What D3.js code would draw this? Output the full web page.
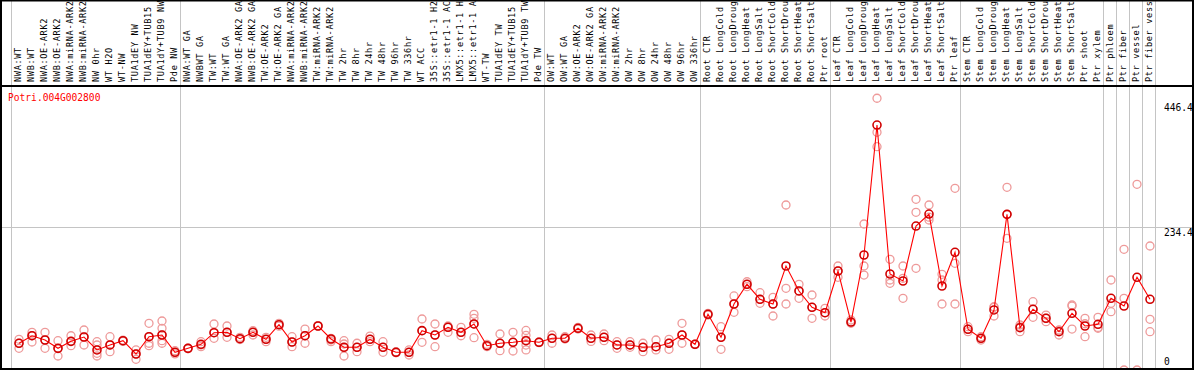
<!DOCTYPE html>
<html>
<head>
<meta charset="utf-8">
<script src="https://cdn.jsdelivr.net/npm/d3@7"></script>
<style>
  body { margin: 0; background: #fff; }
  text { font-family: "DejaVu Sans Mono", monospace; }
</style>
</head>
<body>
<div id="chart"></div>
<script>
var geneName = "Potri.004G002800";

var labels = [
  "NWA:WT", "NWB:WT", "NWA:OE-ARK2", "NWB:OE-ARK2", "NWA:miRNA-ARK2", "NWB:miRNA-ARK2", "NW 0hr",
  "WT H2O", "WT-NW", "TUA1dEY NW", "TUA1dEY+TUB15", "TUA1dY+TUB9 NW", "Pde NW",
  "NWA:WT GA", "NWBWT GA", "TW:WT", "TW:WT GA", "NWA:OE-ARK2 GA", "NWB:OE-ARK2 GA", "TW:OE-ARK2",
  "TW:OE-ARK2 GA", "NWA:miRNA-ARK2", "NWB:miRNA-ARK2", "TW:miRNA-ARK2", "TW:miRNA-ARK2", "TW 2hr",
  "TW 8hr", "TW 24hr", "TW 48hr", "TW 96hr", "TW 336hr", "WT ACC", "35S::etr1-1 H2", "35S::etr1-1 AC",
  "LMX5::etr1-1 H", "LMX5::etr1-1 A", "WT-TW", "TUA1dEY TW", "TUA1dEY+TUB15", "TUA1dY+TUB9 TW", "Pde TW",
  "OW:WT", "OW:WT GA", "OW:OE-ARK2", "OW:OE-ARK2 GA", "OW:miRNA-ARK2", "OW:miRNA-ARK2", "OW 2hr",
  "OW 8hr", "OW 24hr", "OW 48hr", "OW 96hr", "OW 336hr",
  "Root CTR", "Root LongCold", "Root LongDroug", "Root LongHeat", "Root LongSalt", "Root ShortCold",
  "Root ShortDrou", "Root ShortHeat", "Root ShortSalt", "Ptr root",
  "Leaf CTR", "Leaf LongCold", "Leaf LongDroug", "Leaf LongHeat", "Leaf LongSalt", "Leaf ShortCold",
  "Leaf ShortDrou", "Leaf ShortHeat", "Leaf ShortSalt", "Ptr leaf",
  "Stem CTR", "Stem LongCold", "Stem LongDroug", "Stem LongHeat", "Stem LongSalt", "Stem ShortCold",
  "Stem ShortDrou", "Stem ShortHeat", "Stem ShortSalt", "Ptr shoot", "Ptr xylem",
  "Ptr phloem", "Ptr fiber", "Ptr vessel", "Ptr fiber vess"
];

// number of columns in each block between the grey separators
var groupSizes = [13, 28, 12, 10, 10, 11, 1, 1, 1, 1];

var means = [
  43.9, 56.3, 49.3, 35.6, 47.1, 54.2, 32.9, 41.1, 48.1, 26.3, 54.7, 57.5, 29.1,
  35.6, 42.2, 61.3, 61.9, 51.4, 61.9, 50.4, 74.4, 46, 56.3, 72.3, 50.9, 37.3, 37.3,
  50.4, 37.3, 29.1, 29.1, 64.6, 57.5, 70.1, 61.9, 75.6, 39.9, 43.9, 45.5, 48.1, 45.5,
  52.1, 52.1, 68.5, 52.1, 53.7, 41.1, 41.1, 37.3, 38.3, 43.9, 57.5, 42.2,
  91.5, 53.7, 108.4, 140.8, 116.1, 108.4, 170.8, 129.8, 103, 94.1,
  162.6, 78.8, 188.9, 402.4, 157.7, 146.2, 236.5, 256.2, 138, 193.3,
  66.9, 52.1, 98.6, 255.7, 69.5, 99.7, 84.9, 62.9, 93.1, 72.3, 75.1,
  117.8, 105.1, 152.3, 116.1
];

var replicates = [
  [50.4, 43.9, 35.6], [61.9, 56.3, 46], [61.9, 49.3, 35.6], [48.1, 35.6, 23], [56.3, 47.1, 39.9],
  [65.7, 54.2, 41.1], [46.5, 41.1, 27.4, 23], [54.7, 41.1, 30.1], [49, 48, 47], [32.9, 26.3, 17.6],
  [76.7, 54.7, 43.9, 39.9], [80.5, 68.5, 57.5, 48.1, 43.9], [31.7, 29.1, 26.5],
  [36, 35.6, 35], [46.5, 41.1, 38.3], [75.6, 61.3, 52.1], [72.3, 61.9, 53.7], [53.7, 50.4, 50],
  [64.6, 61.9, 57.5], [53.7, 50.4, 46.5], [76.7, 74.4, 72], [54.7, 46, 38.3], [67.3, 56.3, 43.9],
  [73, 72, 72], [52.1, 49.3, 46.5], [48.1, 42.7, 37.3, 23], [43.9, 37.3, 30.1], [55.8, 50.4, 46.5],
  [46.5, 37.3, 29.1], [30, 29, 28.3], [32.9, 29.1, 24.6], [83.8, 64.6, 45.5], [75.6, 57.5, 38.3],
  [72.3, 70.1, 61.9], [70.1, 61.9, 56.3], [91.5, 84.9, 75.6, 53.1], [42.2, 38.3], [59.1, 43.9, 31.7],
  [61.9, 45.5, 31.2], [65, 57, 49, 41, 33], [46, 45.5, 45],
  [57.5, 52.1, 43.9], [54.7, 50.9], [70.1, 67.3], [57.5, 52.1, 47], [59.1, 53.7, 48.1],
  [46.5, 41.1, 35.6], [46.5, 41.1, 37.3], [43.9, 37.3, 30.1], [49.3, 38.3, 32.9], [50.4, 43.9, 34],
  [76.7, 57.5, 43.9], [42.6, 42.2, 41.8],
  [93.1, 90.3], [71.1, 53.7, 34], [121.6, 108.4, 94.8], [145, 140.8, 136.8], [127, 116.1, 109.6],
  [119.4, 108.4, 88.7], [271, 134.2, 108.4], [140.8, 129.8, 117.8], [123.2, 103, 84.9], [101.3, 94.1, 88.7],
  [170.8, 162.6, 152.3], [82.1, 78, 76.7], [239.8, 170.8, 156], [446.4, 390.4, 366.8],
  [181.8, 147.8, 142.4], [170.8, 150.6, 117.8], [280.4, 259, 167], [271, 251, 246.4],
  [157.2, 147.8, 108.4], [298.5, 175.3, 108.4],
  [71.1, 66.9, 62.9], [54.7, 52, 49.3], [104, 103, 88.7], [300.1, 255.7, 216.3], [73.9, 71, 62.9],
  [112.2, 100, 86.6], [90.3, 85, 79.3], [65.7, 65, 57.5], [106.8, 105, 67.3], [84.9, 76, 54.7],
  [86.6, 70, 68.5],
  [147.8, 109.6, 95.8], [198.3, 117.8, 0], [305, 0], [203.7, 83.3, 62.9]
];

var yMax = 468.8;
var gridValues = [234.4];
var tickValues = [446.4, 234.4, 0];

var width = 1194, height = 370;
var headerBottom = 86;

var svg = d3.select("#chart").append("svg")
    .attr("width", width)
    .attr("height", height);

var x = d3.scaleBand()
    .domain(d3.range(labels.length))
    .range([11, 1155]);

var y = d3.scaleLinear()
    .domain([0, yMax])
    .range([370, 84.6]);

// horizontal grid
svg.selectAll(".hgrid")
    .data(gridValues)
    .enter().append("line")
    .attr("class", "hgrid")
    .attr("x1", 0).attr("x2", width)
    .attr("y1", function(d) { return Math.round(y(d)) + 0.5; })
    .attr("y2", function(d) { return Math.round(y(d)) + 0.5; })
    .attr("stroke", "#c4c4c4")
    .attr("stroke-width", 1);

// vertical separators at block boundaries
var bounds = [0];
groupSizes.forEach(function(n) { bounds.push(bounds[bounds.length - 1] + n); });
svg.selectAll(".vgrid")
    .data(bounds)
    .enter().append("line")
    .attr("class", "vgrid")
    .attr("x1", function(d) { return Math.round(x.range()[0] + d * x.step()) + 0.5; })
    .attr("x2", function(d) { return Math.round(x.range()[0] + d * x.step()) + 0.5; })
    .attr("y1", 0).attr("y2", height)
    .attr("stroke", "#c4c4c4")
    .attr("stroke-width", 1);

// column labels, rotated
svg.append("g").selectAll("text")
    .data(labels)
    .enter().append("text")
    .attr("transform", function(d, i) { return "translate(" + (x(i) + 10) + "," + 82 + ") rotate(-90)"; })
    .style("font-size", "8.6px")
    .style("letter-spacing", "0.65px")
    .style("fill", "#000")
    .text(function(d) { return d; });

// plot area clip
svg.append("clipPath").attr("id", "plotclip")
    .append("rect")
    .attr("x", 2).attr("y", headerBottom + 1)
    .attr("width", 1190).attr("height", height - headerBottom - 2);

var plot = svg.append("g").attr("clip-path", "url(#plotclip)");

var cx = function(i) { return x(i) + 8; };

// replicate points
var repPts = [];
replicates.forEach(function(r, i) { r.forEach(function(v) { repPts.push({i: i, v: v}); }); });
plot.selectAll(".rep")
    .data(repPts)
    .enter().append("circle")
    .attr("class", "rep")
    .attr("cx", function(d) { return cx(d.i); })
    .attr("cy", function(d) { return y(d.v); })
    .attr("r", 4)
    .attr("fill", "none")
    .attr("stroke", "#ee9a9a")
    .attr("stroke-width", 1.3);

// mean line
var line = d3.line()
    .x(function(d, i) { return cx(i); })
    .y(function(d) { return y(d); });

plot.append("path")
    .datum(means)
    .attr("d", line)
    .attr("fill", "none")
    .attr("stroke", "#ff0000")
    .attr("stroke-width", 1.1);

plot.selectAll(".mean")
    .data(means)
    .enter().append("circle")
    .attr("class", "mean")
    .attr("cx", function(d, i) { return cx(i); })
    .attr("cy", function(d) { return y(d); })
    .attr("r", 4)
    .attr("fill", "none")
    .attr("stroke", "#d00000")
    .attr("stroke-width", 1.6);

// gene title
svg.append("text")
    .attr("x", 8)
    .attr("y", 101)
    .style("font-size", "9.6px")
    .style("fill", "#ff0000")
    .text(geneName);

// right-hand value labels
svg.selectAll(".ytick")
    .data(tickValues)
    .enter().append("text")
    .attr("class", "ytick")
    .attr("x", 1164)
    .attr("y", function(d) { return Math.max(111, Math.min(365, y(d) + 9)); })
    .style("font-size", "9.6px")
    .style("fill", "#000")
    .text(function(d) { return d; });

// frame
svg.append("line")
    .attr("x1", 0).attr("x2", width)
    .attr("y1", headerBottom).attr("y2", headerBottom)
    .attr("stroke", "#000").attr("stroke-width", 2);

svg.append("rect")
    .attr("x", 1).attr("y", 0.5)
    .attr("width", 1192).attr("height", 368.5)
    .attr("fill", "none")
    .attr("stroke", "#000")
    .attr("stroke-width", 2);
</script>
</body>
</html>
